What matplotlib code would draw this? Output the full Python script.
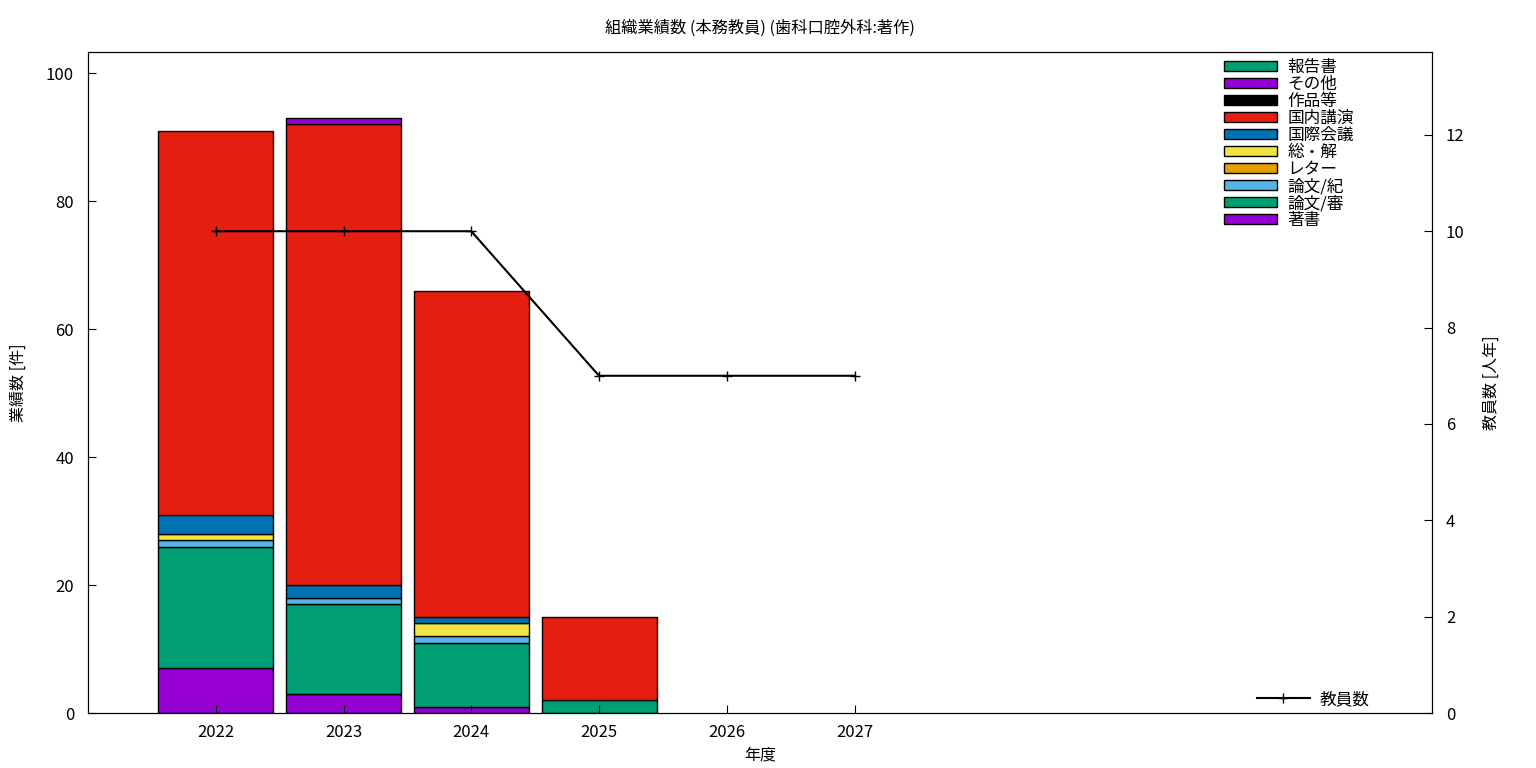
import numpy as np
import matplotlib.pyplot as plt

plt.rcParams['font.family'] = ['Noto Sans CJK JP', 'DejaVu Sans']

years = [2022, 2023, 2024, 2025, 2026, 2027]
categories = ["著書", "論文/審", "論文/紀", "レター", "総・解",
              "国際会議", "国内講演", "作品等", "その他", "報告書"]
colors = ["#9400d3", "#009e73", "#56b4e9", "#e69f00", "#f0e442",
          "#0072b2", "#e51e10", "#000000", "#9400d3", "#009e73"]
counts = {
    "著書":   [7, 3, 1, 0, 0, 0],
    "論文/審": [19, 14, 10, 2, 0, 0],
    "論文/紀": [1, 1, 1, 0, 0, 0],
    "レター":  [0, 0, 0, 0, 0, 0],
    "総・解":  [1, 0, 2, 0, 0, 0],
    "国際会議": [3, 2, 1, 0, 0, 0],
    "国内講演": [60, 72, 51, 13, 0, 0],
    "作品等":  [0, 0, 0, 0, 0, 0],
    "その他":  [0, 1, 0, 0, 0, 0],
    "報告書":  [0, 0, 0, 0, 0, 0],
}
staff = [10, 10, 10, 7, 7, 7]

fig = plt.figure(figsize=(15.36, 7.68), dpi=100)
ax = fig.add_axes([88 / 1536, 1 - 713 / 768, (1432 - 88) / 1536, (713 - 52) / 768])
ax2 = ax.twinx()

bottom = np.zeros(len(years))
handles = []
for cat, col in zip(categories, colors):
    vals = np.array(counts[cat], dtype=float)
    mask = vals > 0
    ax.bar(np.array(years)[mask], vals[mask], width=0.9, bottom=bottom[mask],
           color=col, edgecolor="black", linewidth=1)
    handles.append(plt.Rectangle((0, 0), 1, 1, facecolor=col, edgecolor="black", linewidth=1))
    bottom += vals

ln, = ax2.plot(years, staff, color="black", marker="+", markersize=7, linewidth=1.5)

ax.set_xlim(2021, 2031.52)
ax.set_ylim(0, 103.3)
ax2.set_ylim(0, 13.72)
ax.set_xticks(years)
ax.set_yticks(range(0, 101, 20))
ax2.set_yticks(range(0, 13, 2))

ax.tick_params(axis="both", direction="in", labelsize=12, length=6, top=False)
ax.tick_params(axis="x", pad=8)
ax2.tick_params(axis="y", direction="in", labelsize=12, length=6, pad=10)
ax.tick_params(axis="y", pad=10)

ax.set_xlabel("年度", fontsize=11.5, labelpad=4)
ax.set_ylabel("業績数 [件]", fontsize=11.5, labelpad=14)
ax2.set_ylabel("教員数 [人年]", fontsize=11.5, labelpad=13)
ax.set_title("組織業績数 (本務教員) (歯科口腔外科:著作)", fontsize=11.7, pad=14)

leg1 = ax2.legend(handles[::-1], categories[::-1], loc="upper right",
                  bbox_to_anchor=(0.953, 1.012), frameon=False, fontsize=12,
                  handlelength=3.2, handleheight=0.55, labelspacing=0.0,
                  handletextpad=0.6)
ax2.add_artist(leg1)
ax2.legend([ln], ["教員数"], loc="lower right", bbox_to_anchor=(0.965, -0.015),
           frameon=False, fontsize=12, handlelength=3.2, handletextpad=0.6)

fig.savefig("out.png", dpi=100)
